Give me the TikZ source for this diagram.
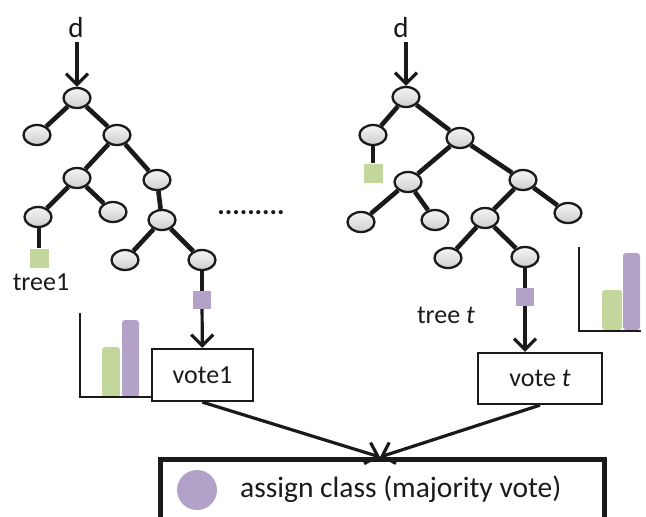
\documentclass[tikz,border=0pt]{standalone}
\usepackage{fontspec}
\setmainfont{Carlito}
\usetikzlibrary{shapes.geometric,arrows.meta}
\definecolor{leafgreen}{HTML}{C3D69B}
\definecolor{leafpurple}{HTML}{B3A2C7}
\definecolor{ink}{HTML}{1A1A1A}
\tikzset{
  tnode/.style={ellipse, draw=ink, line width=2.3pt, minimum width=27pt, minimum height=20pt,
                inner sep=0pt, top color=gray!8, bottom color=gray!38},
  leafg/.style={rectangle, fill=leafgreen, minimum size=19pt, inner sep=0pt},
  leafp/.style={rectangle, fill=leafpurple, minimum size=18pt, inner sep=0pt},
  edge/.style={draw=ink, line width=4.6pt},
  arr/.style={draw=ink, line width=3.2pt, -{Straight Barb[length=11pt,width=22pt]}},
  votebox/.style={rectangle, draw=ink, line width=2.3pt, inner sep=0pt, fill=white},
  lbl/.style={text=ink, inner sep=0pt, font=\fontsize{26}{30}\selectfont},
  axis/.style={draw=ink, line width=2.5pt},
  bar/.style={rounded corners=3pt},
}
\begin{document}
\begin{tikzpicture}[x=1pt, y=-1pt]
\useasboundingbox (0,0) rectangle (646,517);
\clip (0,0) rectangle (646,517);

% ---------- first tree ----------
\node[lbl, font=\fontsize{29}{32}\selectfont] (dL) at (76,28) {d};
\node[tnode] (L0) at (77,98) {};
\node[tnode] (L1) at (37,135) {};
\node[tnode] (L2) at (117,135) {};
\node[tnode] (L3) at (77,178) {};
\node[tnode] (L4) at (157,180) {};
\node[tnode] (L5) at (38,217) {};
\node[tnode] (L6) at (113,212) {};
\node[tnode] (L7) at (162,220) {};
\node[tnode] (L8) at (125,260) {};
\node[tnode] (L9) at (202,260) {};
\node[leafg] (g1) at (39,258) {};
\node[leafp] (p1) at (202,300) {};
\node[lbl] (tree1) at (41,282) {tree1};

\draw[edge] (L0) -- (L1);
\draw[edge] (L0) -- (L2);
\draw[edge] (L2) -- (L3);
\draw[edge] (L2) -- (L4);
\draw[edge] (L3) -- (L5);
\draw[edge] (L3) -- (L6);
\draw[edge] (L4) -- (L7);
\draw[edge] (L7) -- (L8);
\draw[edge] (L7) -- (L9);
\draw[edge] (L5.south -| g1) -- (g1);
\draw[edge] (L9) -- (p1);
\draw[arr] (dL.south) ++(0,4) coordinate (dLs) (dLs -| L0) -- (L0.north);

% ---------- second tree ----------
\node[lbl, font=\fontsize{29}{32}\selectfont] (dR) at (401,28) {d};
\node[tnode] (R0) at (406,97) {};
\node[tnode] (R1) at (373,135) {};
\node[tnode] (R2) at (460,138) {};
\node[tnode] (R3) at (408,182) {};
\node[tnode] (R4) at (523,180) {};
\node[tnode] (R5) at (361,222) {};
\node[tnode] (R6) at (435,220) {};
\node[tnode] (R7) at (485,218) {};
\node[tnode] (R8) at (568,213) {};
\node[tnode] (R9) at (448,258) {};
\node[tnode] (R10) at (525,257) {};
\node[leafg] (g2) at (373,173) {};
\node[leafp] (p2) at (525,297) {};
\node[lbl] (treet) at (446,315) {tree \textit{t}};

\draw[edge] (R0) -- (R1);
\draw[edge] (R0) -- (R2);
\draw[edge] (R1) -- (g2);
\draw[edge] (R2) -- (R3);
\draw[edge] (R2) -- (R4);
\draw[edge] (R3) -- (R5);
\draw[edge] (R3) -- (R6);
\draw[edge] (R4) -- (R7);
\draw[edge] (R4) -- (R8);
\draw[edge] (R7) -- (R9);
\draw[edge] (R7) -- (R10);
\draw[edge] (R10) -- (p2);
\draw[arr] (dR.south) ++(0,4) coordinate (dRs) (dRs -| R0) -- (R0.north);

% ---------- dots between the trees ----------
\node[lbl, font=\fontsize{28}{32}\selectfont\bfseries] (dots) at (251,213) {.........};

% ---------- vote boxes ----------
\node[votebox, minimum width=101pt, minimum height=52pt] (vote1) at (202.5,375) {};
\node[lbl] at (vote1.center) {vote1};
\node[votebox, minimum width=124pt, minimum height=51pt] (votet) at (540,378.5) {};
\node[lbl] at (votet.center) {vote \textit{t}};

\draw[arr] (p1) -- (vote1);
\draw[arr] (p2) -- (p2 |- votet.north);

% ---------- class histograms ----------
\fill[leafgreen, bar] (102,397) -- (102,347) -- (120,347) -- (120,397) -- cycle;
\fill[leafpurple, bar] (122,397) -- (122,320) -- (139,320) -- (139,397) -- cycle;
\draw[axis] (80,313) -- (80,397) -- (152,397);

\fill[leafgreen, bar] (602,330) -- (602,290) -- (622,290) -- (622,330) -- cycle;
\fill[leafpurple, bar] (623,330) -- (623,253) -- (640,253) -- (640,330) -- cycle;
\draw[axis] (579,247) -- (579,331) -- (641,331);

% ---------- majority vote ----------
\node[rectangle, draw=ink, line width=4.5pt, anchor=north west, minimum width=444pt,
      minimum height=90pt, inner sep=0pt] (assign) at (158,457) {};
\coordinate (tip) at (380,457);
\draw[arr] (vote1.south) -- (tip);
\draw[arr] (votet.south) -- (tip);
\node[circle, fill=leafpurple, minimum size=40pt, inner sep=0pt] (dot) at (197,490) {};
\node[lbl, anchor=west, font=\fontsize{29.5}{34}\selectfont] (assigntxt) at (240,489) {assign class (majority vote)};
\end{tikzpicture}
\end{document}
